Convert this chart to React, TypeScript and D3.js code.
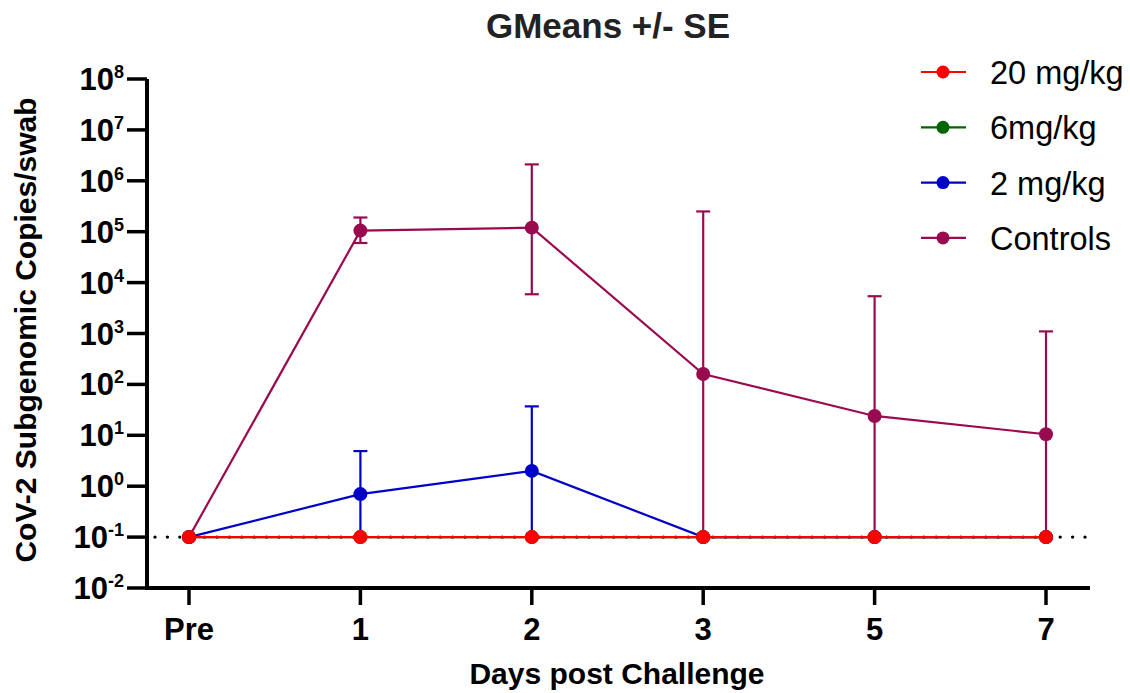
import { scaleLog, scalePoint, line } from "d3";

const width = 1130;
const height = 693;

const days = ["Pre", "1", "2", "3", "5", "7"];
const decades = [-2, -1, 0, 1, 2, 3, 4, 5, 6, 7, 8];

// geometric means per group, with upper / lower SE bounds
const controls = [0.1, 1.05e5, 1.2e5, 160, 24, 10.5];
const controlsHi = [0.1, 1.9e5, 2.1e6, 2.5e5, 5400, 1100];
const controlsLo = [0.1, 6e4, 5900, 0.1, 0.1, 0.1];
const mg2 = [0.1, 0.7, 2.0, 0.1, 0.1, 0.1];
const mg2Hi = [0.1, 4.9, 37, 0.1, 0.1, 0.1];
const mg2Lo = [0.1, 0.1, 0.1, 0.1, 0.1, 0.1];
const mg6 = [0.1, 0.1, 0.1, 0.1, 0.1, 0.1];
const mg20 = [0.1, 0.1, 0.1, 0.1, 0.1, 0.1];

const limit = 0.1;

const series = [
	{ name: "Controls", color: "#9a0a4f", values: controls, hi: controlsHi, lo: controlsLo },
	{ name: "2 mg/kg", color: "#0000c8", values: mg2, hi: mg2Hi, lo: mg2Lo },
	{ name: "6mg/kg", color: "#006400", values: mg6, hi: null, lo: null },
	{ name: "20 mg/kg", color: "#ff0000", values: mg20, hi: null, lo: null },
];
const legendOrder = ["20 mg/kg", "6mg/kg", "2 mg/kg", "Controls"];

const font = "'Liberation Sans', Arial, sans-serif";

const x0 = 147;
const x1 = 1090;
const yTop = 79;
const yBottom = 588;

const x = scalePoint<string>().domain(days).range([189, 1046]);
const y = scaleLog().domain([0.01, 1e8]).range([yBottom, yTop]);

const App = () => {
	const path = line<number>()
		.x((_, i) => x(days[i]) as number)
		.y((d) => y(d));

	const dots = [];
	for (let px = x0 + 8; px <= 1085; px += 12.4) dots.push(px);

	return (
		<svg
			width={width}
			height={height}
			style={{ position: "absolute", left: 0, top: 0, background: "#fff" }}
			fontFamily={font}
		>
			<text x={608} y={38} textAnchor="middle" fontSize={35} fontWeight="bold" fill="#222">
				GMeans +/- SE
			</text>

			{/* detection limit */}
			{dots.map((px, i) => (
				<circle key={i} cx={px} cy={y(limit)} r={1.7} fill="#000" />
			))}

			{/* axes */}
			<line x1={x0} x2={x0} y1={yTop} y2={yBottom + 2} stroke="#000" strokeWidth={4} />
			<line x1={x0 - 2} x2={x1} y1={yBottom} y2={yBottom} stroke="#000" strokeWidth={4} />
			{decades.map((p) => (
				<g key={p} transform={`translate(0,${y(Math.pow(10, p))})`}>
					<line x1={x0 - 20} x2={x0} stroke="#000" strokeWidth={3.5} />
					<text x={124} y={11} textAnchor="end" fontSize={31} fontWeight="bold">
						10
						<tspan dy={-12} fontSize={18}>
							{p}
						</tspan>
					</text>
				</g>
			))}
			{days.map((d) => (
				<g key={d} transform={`translate(${x(d)},0)`}>
					<line y1={yBottom} y2={yBottom + 17} stroke="#000" strokeWidth={3.5} />
					<text y={640} textAnchor="middle" fontSize={31} fontWeight="bold">
						{d}
					</text>
				</g>
			))}
			<text x={617} y={684} textAnchor="middle" fontSize={30} fontWeight="bold">
				Days post Challenge
			</text>
			<text
				transform="translate(36,330) rotate(-90)"
				textAnchor="middle"
				fontSize={30}
				fontWeight="bold"
			>
				CoV-2 Subgenomic Copies/swab
			</text>

			{/* series */}
			{series.map((s) => (
				<g key={s.name} stroke={s.color} fill={s.color}>
					{s.hi &&
						s.values.map((v, i) => {
							const cx = x(days[i]) as number;
							const hi = s.hi![i];
							const lo = s.lo![i];
							if (hi === v && lo === v) return null;
							return (
								<g key={i} strokeWidth={2.2}>
									<line x1={cx} x2={cx} y1={y(hi)} y2={y(lo)} />
									{hi > v && <line x1={cx - 7} x2={cx + 7} y1={y(hi)} y2={y(hi)} />}
									{lo > limit && <line x1={cx - 7} x2={cx + 7} y1={y(lo)} y2={y(lo)} />}
								</g>
							);
						})}
					<path d={path(s.values) as string} fill="none" strokeWidth={2.2} />
					{s.values.map((v, i) => (
						<circle key={i} cx={x(days[i]) as number} cy={y(v)} r={7} stroke="none" />
					))}
				</g>
			))}

			{/* legend */}
			{legendOrder.map((name, i) => {
				const s = series.find((d) => d.name === name)!;
				const ly = 72 + i * 55.3;
				return (
					<g key={name} transform={`translate(0,${ly})`}>
						<line x1={921} x2={966} stroke={s.color} strokeWidth={2.2} />
						<circle cx={943} r={6.5} fill={s.color} />
						<text x={990} y={12} fontSize={32.5}>
							{name}
						</text>
					</g>
				);
			})}
		</svg>
	);
};

export default App;
